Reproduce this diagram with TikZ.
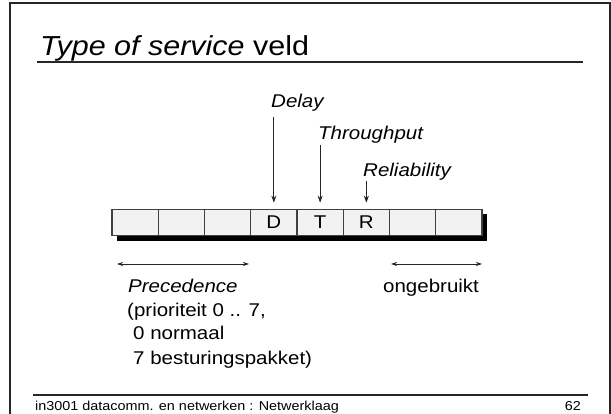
\documentclass[tikz,border=0pt]{standalone}
\usepackage{fontspec}
\setmainfont{Liberation Sans}
\usetikzlibrary{arrows.meta}
\newcommand{\vsq}[1]{\scalebox{1}[0.9]{#1}}
\begin{document}
\begin{tikzpicture}[x=1pt,y=-1pt,
  cell/.style={draw=black!75, line width=1.1pt, fill=gray!10, minimum width=46.25pt,
    minimum height=26.5pt, inner sep=0pt, font=\fontsize{20.5}{24}\selectfont},
  lbl/.style={inner sep=0pt, anchor=base west, font=\fontsize{20.5}{24}\selectfont},
  foot/.style={inner sep=0pt, anchor=base west, font=\fontsize{14.4}{16}\selectfont},
  arr/.style={-{Stealth[length=7pt,width=5pt]}, line width=0.8pt, black!85},
  darr/.style={{Stealth[length=6pt,width=4pt]}-{Stealth[length=6pt,width=4pt]}, line width=0.8pt, black!85}
]
\useasboundingbox (0,0) rectangle (611,414);
% frame
\draw[line width=2pt, black!85] (10,414) -- (10,3.5) -- (609.5,3.5) -- (609.5,414);
% title
\node[anchor=base west, inner sep=0pt, font=\fontsize{30.5}{36}\selectfont] (title) at (40,56)
  {\vsq{\textit{Type of service} veld}};
\draw[line width=1.5pt, black!85] (37,62) -- (583,62);
% shadow and cells
\fill[black] (116.5,214) rectangle (486.5,241);
\foreach \i/\t in {1/,2/,3/,4/D,5/T,6/R,7/,8/} {
  \node[cell] (c\i) at ({112+46.25*(\i-0.5)},222.5) {\vsq{\t}};
}
% labels and arrows
\node[lbl] (delay) at (271,108) {\vsq{\textit{Delay}}};
\node[lbl] (thr) at (318,140) {\vsq{\textit{Throughput}}};
\node[lbl] (rel) at (363,177) {\vsq{\textit{Reliability}}};
\draw[arr, shorten <=4.5pt, shorten >=6pt] (c4.north |- delay.south) -- (c4.north);
\draw[arr, shorten <=0.5pt, shorten >=6pt] (c5.north |- thr.south) -- (c5.north);
\draw[arr, shorten <=0pt, shorten >=6pt] (c6.north |- rel.south) -- (c6.north);
% range arrows
\coordinate (pl) at (117,264);
\coordinate (pr) at (249,264);
\coordinate (ul) at (391,264);
\coordinate (ur) at (482,264);
\draw[darr] (pl) -- (pr);
\draw[darr] (ul) -- (ur);
\node[lbl] (prec) at (128,293) {\vsq{\textit{Precedence}}};
\node[lbl] (prec2) at (127,316.7) {\vsq{(prioriteit 0 .. 7,}};
\node[lbl] (prec3) at (133,340) {\vsq{0 normaal}};
\node[lbl] (prec4) at (133,364) {\vsq{7 besturingspakket)}};
\node[lbl] (ong) at (383,293) {\vsq{ongebruikt}};
% footer
\draw[line width=1.8pt, black!85] (33,395) -- (588,395);
\node[foot] (ft) at (35,410) {\vsq{in3001 datacomm. en netwerken : Netwerklaag}};
\node[foot, anchor=base east] (pg) at (581,410) {\vsq{62}};
\end{tikzpicture}
\end{document}
